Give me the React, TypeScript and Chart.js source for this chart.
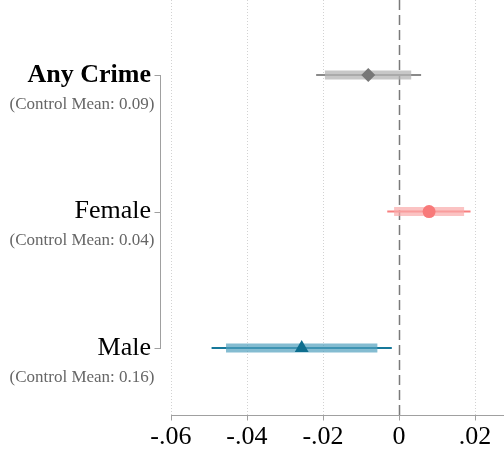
import React, { useEffect, useRef } from "react";
import { Chart, registerables } from "chart.js";

Chart.register(...registerables);

const categories = ["Any Crime", "Female", "Male"];
const controlMeans = ["0.09", "0.04", "0.16"];
const estimates = [-0.0081, 0.0079, -0.0256];
const ci95Low = [-0.0218, -0.0031, -0.0493];
const ci95High = [0.0058, 0.0188, -0.0019];
const ci90Low = [-0.0195, -0.0013, -0.0455];
const ci90High = [0.0032, 0.0171, -0.0057];
const xTicks = [-0.06, -0.04, -0.02, 0, 0.02];

const markerStyles = ["rectRot", "circle", "triangle"];
const markerRadius = [7, 6.5, 8];
const pointColors = ["#777777", "#f87a7a", "#0e6e8e"];
const thinColors = ["#8a8a8a", "#f77f7f", "#16789a"];
const thickColors = ["rgba(180,180,180,0.75)", "rgba(250,170,170,0.7)", "rgba(80,160,190,0.7)"];

const fmt = (v: number) => {
  if (Math.abs(v) < 1e-9) return "0";
  const s = v.toFixed(2);
  return s.replace(/^(-?)0\./, "$1.");
};

export default function App() {
  const ref = useRef<HTMLCanvasElement | null>(null);
  useEffect(() => {
    document.body.style.margin = "0";
    if (!ref.current) return;
    const datasets: any[] = [];
    categories.forEach((_, i) => {
      const y = i + 1;
      datasets.push({
        type: "line",
        data: [{ x: ci95Low[i], y }, { x: ci95High[i], y }],
        borderColor: thinColors[i],
        borderWidth: 2,
        pointRadius: 0,
        borderCapStyle: "butt",
        order: 3,
      });
      datasets.push({
        type: "line",
        data: [{ x: ci90Low[i], y }, { x: ci90High[i], y }],
        borderColor: thickColors[i],
        borderWidth: 9,
        pointRadius: 0,
        borderCapStyle: "butt",
        order: 2,
      });
      datasets.push({
        type: "scatter",
        data: [{ x: estimates[i], y }],
        pointStyle: markerStyles[i],
        pointRadius: markerRadius[i],
        backgroundColor: pointColors[i],
        borderColor: pointColors[i],
        borderWidth: 0,
        order: 1,
      });
    });

    const decor = {
      id: "decor",
      beforeDatasetsDraw(chart: any) {
        const { ctx, chartArea, scales } = chart;
        const xs = scales.x;
        ctx.save();
        // dotted grid
        ctx.strokeStyle = "#d2d2d2";
        ctx.lineWidth = 1;
        ctx.setLineDash([1, 2]);
        xTicks.forEach((t) => {
          if (t === 0) return;
          const px = Math.round(xs.getPixelForValue(t)) + 0.5;
          ctx.beginPath();
          ctx.moveTo(px, chartArea.top);
          ctx.lineTo(px, chartArea.bottom);
          ctx.stroke();
        });
        // zero line
        const x0 = Math.round(xs.getPixelForValue(0)) + 0.5;
        ctx.strokeStyle = "#7a7a7a";
        ctx.lineWidth = 1.5;
        ctx.setLineDash([10, 5]);
        ctx.beginPath();
        ctx.moveTo(x0, chartArea.top);
        ctx.lineTo(x0, chartArea.bottom);
        ctx.stroke();
        ctx.setLineDash([]);
        ctx.restore();
      },
      afterDraw(chart: any) {
        const { ctx, chartArea, scales } = chart;
        const xs = scales.x, ys = scales.y;
        ctx.save();
        ctx.strokeStyle = "#a0a0a0";
        ctx.lineWidth = 1;
        // y axis line
        const yl = Math.round(chartArea.left) - 0.5;
        ctx.beginPath();
        ctx.moveTo(yl, Math.round(ys.getPixelForValue(1)));
        ctx.lineTo(yl, Math.round(ys.getPixelForValue(3)) + 1);
        ctx.stroke();
        categories.forEach((_, i) => {
          const py = Math.round(ys.getPixelForValue(i + 1)) + 0.5;
          ctx.beginPath();
          ctx.moveTo(yl - 6, py);
          ctx.lineTo(yl, py);
          ctx.stroke();
        });
        // x axis line
        const xb = Math.round(chartArea.bottom) + 0.5;
        ctx.beginPath();
        ctx.moveTo(Math.round(xs.getPixelForValue(xTicks[0])), xb);
        ctx.lineTo(chartArea.right, xb);
        ctx.stroke();
        xTicks.forEach((t) => {
          const px = Math.round(xs.getPixelForValue(t)) + 0.5;
          ctx.beginPath();
          ctx.moveTo(px, xb);
          ctx.lineTo(px, xb + 5);
          ctx.stroke();
        });
        // control means
        ctx.fillStyle = "#666666";
        ctx.font = "17px 'Liberation Serif'";
        ctx.textAlign = "right";
        ctx.textBaseline = "middle";
        controlMeans.forEach((m, i) => {
          const py = ys.getPixelForValue(i + 1) + 29;
          ctx.fillText(`(Control Mean: ${m})`, yl - 6, py);
        });
        ctx.restore();
      },
    };

    const chart = new Chart(ref.current, {
      type: "scatter",
      data: { datasets },
      options: {
        animation: false,
        responsive: false,
        maintainAspectRatio: false,
        layout: { padding: 0, autoPadding: false },
        plugins: { legend: { display: false }, tooltip: { enabled: false } },
        scales: {
          x: {
            type: "linear",
            min: -0.0626,
            max: 0.0276,
            afterBuildTicks: (scale: any) => {
              scale.ticks = xTicks.map((v) => ({ value: v }));
            },
            afterFit: (scale: any) => {
              scale.height = 35;
              scale.paddingLeft = 0;
              scale.paddingRight = 0;
            },
            border: { display: false },
            grid: { display: false, drawTicks: true, tickLength: 5 },
            ticks: {
              callback: (v: any) => fmt(Number(v)),
              color: "#000000",
              font: { family: "'Liberation Serif'", size: 26 },
              padding: 2,
              maxRotation: 0,
              autoSkip: false,
            },
          },
          y: {
            type: "linear",
            reverse: true,
            min: 0.45,
            max: 3.49,
            afterBuildTicks: (scale: any) => {
              scale.ticks = categories.map((_, i) => ({ value: i + 1 }));
            },
            afterFit: (scale: any) => {
              scale.width = 161;
              scale.paddingTop = 0;
              scale.paddingBottom = 0;
            },
            border: { display: false },
            grid: { display: false, drawTicks: false },
            ticks: {
              callback: (v: any) => categories[Number(v) - 1] ?? "",
              color: "#000000",
              font: (c: any) => ({
                family: "'Liberation Serif'",
                size: 26,
                weight: c.tick && c.tick.value === 1 ? "bold" : "normal",
              }),
              padding: 10,
              autoSkip: false,
            },
          },
        },
      } as any,
      plugins: [decor],
    });
    return () => chart.destroy();
  }, []);
  return <canvas ref={ref} width={504} height={450} style={{ display: "block" }} />;
}
